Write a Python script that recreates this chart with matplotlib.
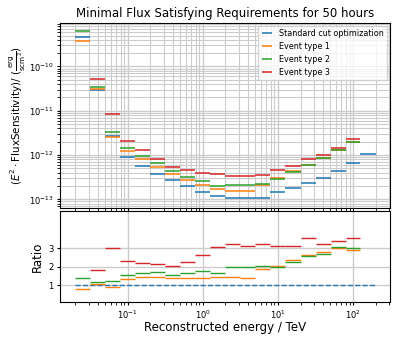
import numpy as np
import matplotlib
matplotlib.use("Agg")
import matplotlib.pyplot as plt

# energy bin edges in TeV (5 per decade, 0.02 - 200)
energy_edges = [0.02, 0.0317, 0.0502, 0.0796, 0.126, 0.2, 0.317, 0.502, 0.796,
                1.26, 2.0, 3.17, 5.02, 7.96, 12.6, 20.0, 31.7, 50.2, 79.6, 126.0, 200.0]

# standard cut optimization sensitivity (erg / s cm^2)
flux_standard = [4.6e-10, 2.9e-11, 2.75e-12, 9.1e-13, 5.8e-13, 3.8e-13, 2.7e-13,
                 2.0e-13, 1.5e-13, 1.2e-13, 1.07e-13, 1.1e-13, 1.1e-13, 1.5e-13,
                 1.8e-13, 2.3e-13, 3.1e-13, 4.3e-13, 6.7e-13, 1.07e-12]

# ratio event type / standard
ratio_type1 = [0.80, 1.05, 0.91, 1.33, 1.42, 1.44, 1.40, 1.40, 1.40, 1.43,
               1.44, 1.39, 1.88, 2.06, 2.38, 2.63, 2.77, 3.03, 2.91, np.nan]
ratio_type2 = [1.40, 1.16, 1.21, 1.56, 1.65, 1.71, 1.58, 1.64, 1.76, 1.67,
               1.96, 1.96, 2.04, 1.97, 2.28, 2.57, 2.70, 3.04, 3.02, np.nan]
ratio_type3 = [np.nan, 1.81, 3.02, 2.31, 2.20, 2.12, 2.03, 2.26, 2.65, 3.07,
               3.21, 3.14, 3.21, 3.10, 3.10, 3.57, 3.25, 3.37, 3.53, np.nan]

labels = ["Standard cut optimization", "Event type 1", "Event type 2", "Event type 3"]
colors = ["#1f77b4", "#ff7f0e", "#2ca02c", "#d62728"]

edges = np.array(energy_edges)
lo, hi = edges[:-1], edges[1:]
std = np.array(flux_standard)
ratios = [np.array(ratio_type1), np.array(ratio_type2), np.array(ratio_type3)]

fig = plt.figure(figsize=(3.99, 3.42), dpi=100)
ax1 = fig.add_axes([0.150, 0.392, 0.827, 0.542])
ax2 = fig.add_axes([0.150, 0.117, 0.827, 0.266], sharex=ax1)

# top panel
ax1.hlines(std, lo, hi, color=colors[0], lw=1.3, alpha=0.85, label=labels[0])
for r, c, lab in zip(ratios, colors[1:], labels[1:]):
    ax1.hlines(std * r, lo, hi, color=c, lw=1.3, alpha=0.85, label=lab)
ax1.set_xscale("log")
ax1.set_yscale("log")
ax1.set_xlim(0.0124, 310)
ax1.set_ylim(6.4e-14, 9.8e-10)
ax1.grid(which="major", color="#cccccc", lw=1.0)
ax1.grid(which="minor", color="#cccccc", lw=0.8)
ax1.set_axisbelow(True)
ax1.tick_params(labelbottom=False, labelsize=6)
ax1.tick_params(which="both", length=2.5, pad=2)
ax1.set_ylabel(r"$(E^2 \cdot \mathrm{FluxSensitivity})/\ (\frac{\mathrm{erg}}{\mathrm{s cm}^2})$",
               fontsize=7.5, labelpad=1)
ax1.set_title("Minimal Flux Satisfying Requirements for 50 hours", fontsize=8.5, pad=4)
leg = ax1.legend(loc="upper right", fontsize=5.8, handlelength=1.3, framealpha=0.8,
                 borderaxespad=0.4)

# bottom panel
ax2.plot([edges[0], edges[-1]], [1, 1], color=colors[0], lw=1.0, ls="--")
for r, c in zip(ratios, colors[1:]):
    ax2.hlines(r, lo, hi, color=c, lw=1.0)
ax2.set_ylim(0.1, 5.0)
ax2.set_yticks([1, 2, 3])
ax2.grid(which="major", color="#cccccc", lw=1.0)
ax2.set_axisbelow(True)
ax2.tick_params(labelsize=6)
ax2.tick_params(which="both", length=2.5, pad=2)
ax2.set_ylabel("Ratio", fontsize=8.5, labelpad=3)
ax2.set_xlabel("Reconstructed energy / TeV", fontsize=8.5, labelpad=0)

fig.savefig("out.png", dpi=100)
